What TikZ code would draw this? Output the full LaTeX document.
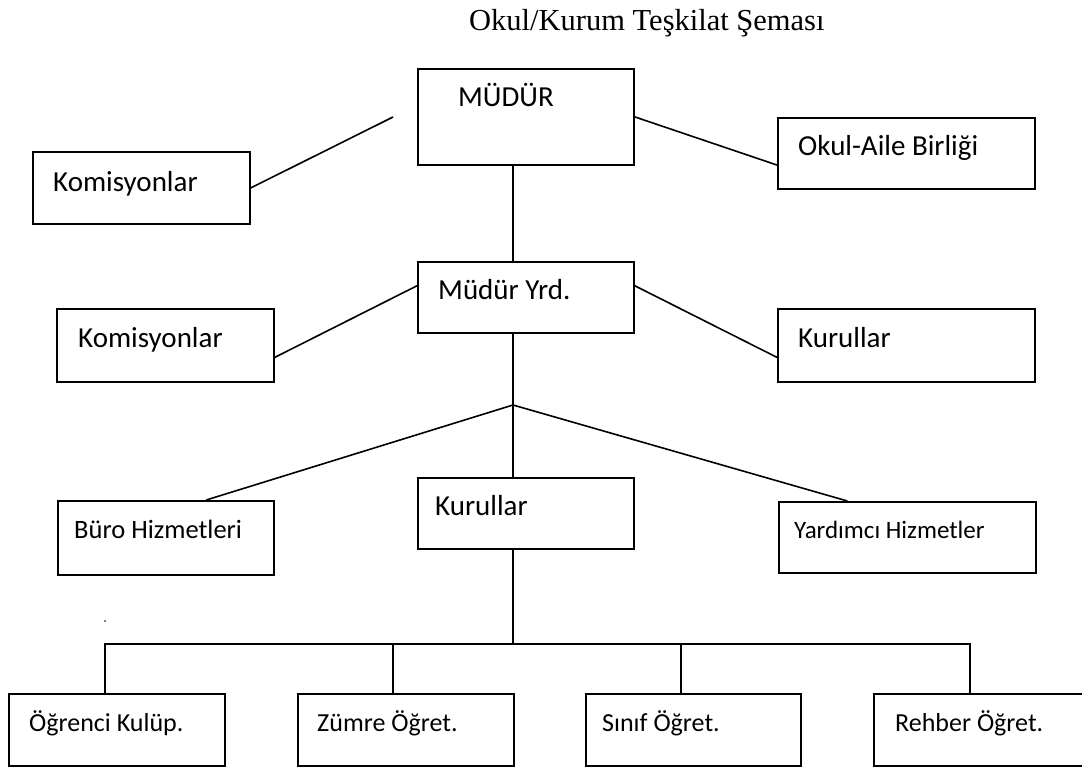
\documentclass[tikz,border=0pt]{standalone}
\usepackage{fontspec}
\setmainfont{Carlito}
\newfontfamily\titlefont{Liberation Serif}
\usetikzlibrary{calc}
\begin{document}
\begin{tikzpicture}[x=1pt,y=-1pt,
  box/.style={draw, line width=1.8pt, rectangle, inner sep=0pt, anchor=north west},
  conn/.style={line width=1.6pt},
  big/.style={font=\fontsize{29}{34}\selectfont, inner sep=0pt, anchor=base west},
  small/.style={font=\fontsize{26}{30}\selectfont, inner sep=0pt, anchor=base west}]
\useasboundingbox (0,0) rectangle (1082,766);
\newcommand{\bx}[5]{\node[box, minimum width=#4pt, minimum height=#5pt] (#1) at (#2,#3) {};}
% boxes
\bx{mudur}{417}{68}{216}{96}
\bx{kom1}{32}{151}{217}{72}
\bx{okul}{777}{117}{257}{71}
\bx{yrd}{417}{261}{216}{71}
\bx{kom2}{56}{308}{217}{73}
\bx{kur1}{777}{308}{257}{73}
\bx{buro}{57}{500}{216}{74}
\bx{kur2}{417}{477}{216}{71}
\bx{yard}{778}{501}{257}{71}
\bx{ogr}{8}{693}{216}{72}
\bx{zum}{297}{693}{216}{72}
\bx{sinif}{585}{693}{215}{72}
\bx{rehber}{873}{693}{214}{72}
% title
\node[font=\titlefont\fontsize{30.5}{35}\selectfont, inner sep=0pt, anchor=base west] (title) at (469,30) {Okul/Kurum Teşkilat Şeması};
% labels
\node[big] (tmudur) at (458,106) {MÜDÜR};
\node[big] (tkom1) at (53,191) {Komisyonlar};
\node[big] (tokul) at (798,155) {Okul-Aile Birliği};
\node[big] (tyrd) at (438,299) {Müdür Yrd.};
\node[big] (tkom2) at (78,347) {Komisyonlar};
\node[big] (tkur1) at (798,347) {Kurullar};
\node[small, font=\fontsize{26.5}{30}\selectfont] (tburo) at (74,538) {Büro Hizmetleri};
\node[big] (tkur2) at (435,515) {Kurullar};
\node[small, font=\fontsize{25}{30}\selectfont] (tyard) at (794,538) {Yardımcı Hizmetler};
\node[small] (togr) at (29,731) {Öğrenci Kulüp.};
\node[small] (tzum) at (317,731) {Zümre Öğret.};
\node[small] (tsinif) at (602,731) {Sınıf Öğret.};
\node[small] (treh) at (895,731) {Rehber Öğret.};
% connectors
\coordinate (k1end) at (393,117);
\draw[conn] (kom1.east) -- (k1end);
\draw[conn] (mudur.east) -- ($(okul.north west)!0.66!(okul.south west)$);
\coordinate (tx) at (513,0);
\draw[conn] (mudur.south -| tx) -- (yrd.north -| tx);
\draw[conn] ($(yrd.north west)!0.34!(yrd.south west)$) -- ($(kom2.north east)!0.66!(kom2.south east)$);
\draw[conn] ($(yrd.north east)!0.34!(yrd.south east)$) -- ($(kur1.north west)!0.66!(kur1.south west)$);
\coordinate (branch) at (513,405);
\draw[conn] (yrd.south -| tx) -- (branch);
\draw[conn] (branch) -- ($(buro.north west)!0.685!(buro.north east)$);
\draw[conn] (branch) -- (kur2.north -| tx);
\draw[conn] (branch) -- ($(yard.north west)!0.268!(yard.north east)$);
\coordinate (jn) at (513,644);
\draw[conn] (kur2.south -| tx) -- (jn);
\coordinate (hl) at (105,644);
\coordinate (hr) at (970,644);
\coordinate (dz) at (393,644);
\coordinate (ds) at (681,644);
\draw[conn] (ogr.north -| hl) -- (hl) -- (hr) -- (rehber.north -| hr);
\draw[conn] (dz) -- (zum.north -| dz);
\draw[conn] (ds) -- (sinif.north -| ds);
\fill (105,621) circle (0.8);
\end{tikzpicture}
\end{document}
